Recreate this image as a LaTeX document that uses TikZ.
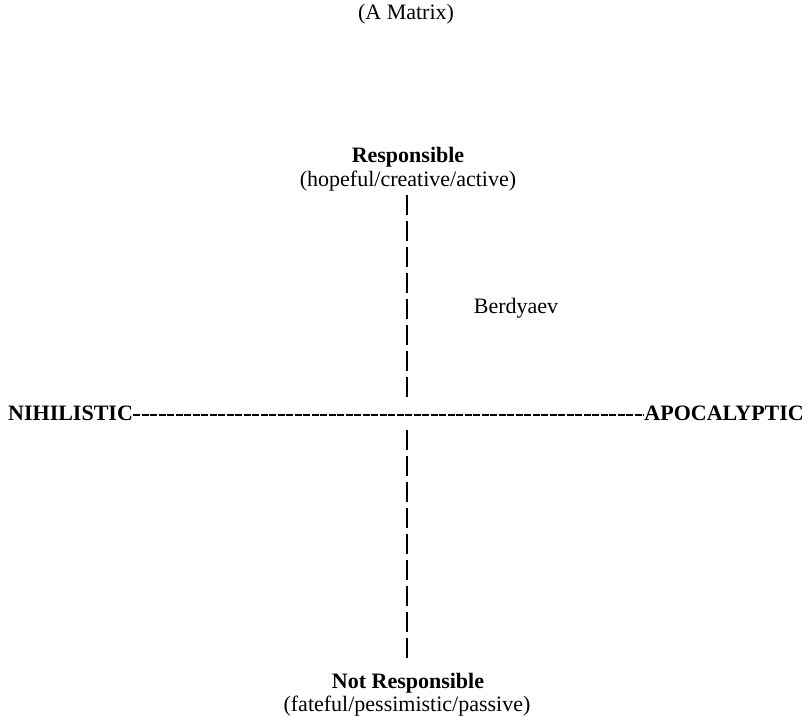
\documentclass[tikz,border=0pt]{standalone}
\usepackage{fontspec}
\setmainfont{Liberation Serif}
\begin{document}
\begin{tikzpicture}[x=1bp,y=-1bp,
  lbl/.style={inner sep=0pt,anchor=base,font=\fontsize{22bp}{26bp}\selectfont},
  blbl/.style={lbl,font=\fontsize{22bp}{26bp}\selectfont\bfseries},
  vaxis/.style={line width=2.6bp,dash pattern=on 20bp off 6bp},
  haxis/.style={line width=1.8bp,dash pattern=on 7bp off 1.5bp}]
\useasboundingbox (0,0) rectangle (809,717);
\node[lbl] (title) at (406,20) {(A Matrix)};
\node[blbl] (resp) at (408,162) {Responsible};
\node[lbl] (respsub) at (408,186) {(hopeful/creative/active)};
\node[lbl] (berd) at (516,313) {Berdyaev};
\node[blbl,anchor=base west] (nih) at (8,420) {NIHILISTIC};
\node[blbl,anchor=base east] (apo) at (804,420) {APOCALYPTIC};
\node[blbl] (nresp) at (408,688) {Not Responsible};
\node[lbl] (nrespsub) at (407,711) {(fateful/pessimistic/passive)};
\coordinate (vt) at (407,195);
\coordinate (vm1) at (407,399);
\coordinate (vm2) at (407,430);
\coordinate (vb) at (407,662);
\draw[vaxis] (vt) -- (vm1);
\draw[vaxis] (vm2) -- (vb);
\draw[haxis] ([yshift=-2.5bp]nih.east) -- ([yshift=-2.5bp]apo.west);
\end{tikzpicture}
\end{document}
